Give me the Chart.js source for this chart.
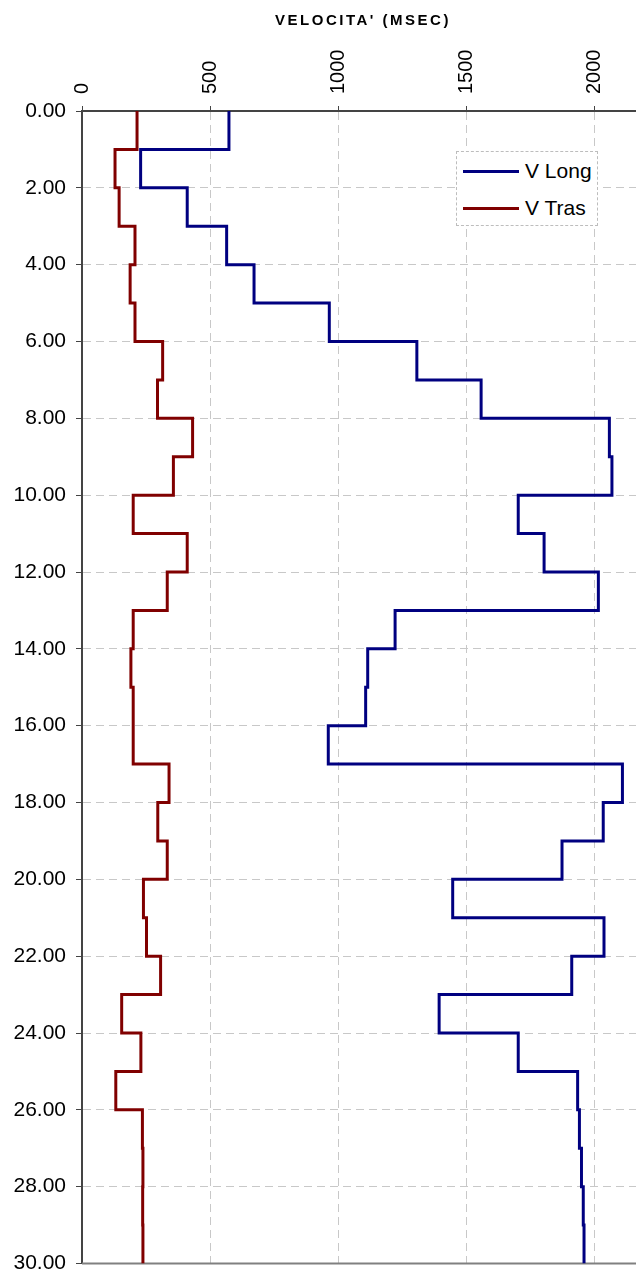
<!DOCTYPE html>
<html>
<head>
<meta charset="utf-8">
<script src="https://cdn.jsdelivr.net/npm/chart.js@4/dist/chart.umd.min.js"></script>
<style>
  body { margin: 0; background: #fff; }
  #wrap { position: relative; width: 636px; height: 1284px; }
  #legend {
    position: absolute; left: 456px; top: 151px; width: 140px; height: 73px;
    border: 1px dashed #bdbdbd; background: #fff;
    font-family: "Liberation Sans", Arial, sans-serif; font-size: 21px; color: #000;
  }
  #legend .row { position: absolute; left: 6px; height: 24px; display: flex; align-items: center; }
  #legend .swatch { width: 56px; height: 3px; margin-right: 6px; }
</style>
</head>
<body>
<div id="wrap">
  <canvas id="chart" width="636" height="1284"></canvas>
  <div id="legend"></div>
</div>
<script>
// depth of the top of each 1 m layer, and the base of the last one
const depthTop = [0, 1, 2, 3, 4, 5, 6, 7, 8, 9, 10, 11, 12, 13, 14,
                  15, 16, 17, 18, 19, 20, 21, 22, 23, 24, 25, 26, 27, 28, 29];
const depthBase = 30;

const vLong = [574, 229, 411, 565, 672, 966, 1308, 1559, 2060, 2070,
               1704, 1805, 2017, 1223, 1116, 1108, 962, 2111, 2036, 1875,
               1448, 2039, 1913, 1395, 1704, 1936, 1943, 1951, 1958, 1961];

const vTras = [215, 129, 145, 207, 188, 207, 315, 295, 432, 357,
               200, 411, 333, 200, 191, 200, 200, 340, 296, 333,
               240, 252, 307, 155, 230, 132, 236, 238, 237, 238];

const xTicks = [0, 500, 1000, 1500, 2000];

function profile(values) {
  const pts = values.map((v, i) => ({ x: v, y: depthTop[i] }));
  pts.push({ x: values[values.length - 1], y: depthBase });
  return pts;
}

const datasets = [
  { label: 'V Long', data: profile(vLong), borderColor: '#000080' },
  { label: 'V Tras', data: profile(vTras), borderColor: '#800000' }
].map(d => Object.assign(d, {
  showLine: true,
  stepped: 'after',
  borderWidth: 3,
  pointRadius: 0,
  borderJoinStyle: 'miter',
  fill: false
}));

const axisTitle = {
  id: 'axisTitle',
  afterDraw(chart) {
    const { ctx, chartArea } = chart;
    ctx.save();
    ctx.font = 'bold 15px "Liberation Sans", Arial, sans-serif';
    ctx.letterSpacing = '2.5px';
    ctx.fillStyle = '#000';
    ctx.textAlign = 'center';
    ctx.textBaseline = 'middle';
    ctx.fillText("VELOCITA' (MSEC)", (chartArea.left + chartArea.right) / 2 + 4, 21);
    ctx.restore();
  }
};

const baseLine = {
  id: 'baseLine',
  beforeDatasetsDraw(chart) {
    const { ctx, chartArea } = chart;
    ctx.save();
    ctx.strokeStyle = '#808080';
    ctx.lineWidth = 2;
    ctx.beginPath();
    ctx.moveTo(chartArea.left, chartArea.bottom);
    ctx.lineTo(chartArea.right, chartArea.bottom);
    ctx.stroke();
    ctx.restore();
  }
};

const chart = new Chart(document.getElementById('chart'), {
  type: 'scatter',
  data: { datasets },
  options: {
    responsive: false,
    animation: false,
    layout: { padding: { top: 0, right: 0, bottom: 11, left: 0 } },
    plugins: { legend: { display: false }, tooltip: { enabled: false } },
    scales: {
      x: {
        type: 'linear',
        position: 'top',
        min: 0,
        max: 2164,
        afterFit: s => { s.height = 111; },
        afterBuildTicks: s => { s.ticks = xTicks.map(v => ({ value: v })); },
        ticks: {
          minRotation: 90, maxRotation: 90, autoSkip: false, padding: 12,
          labelOffset: 24,
          color: '#000',
          callback: v => String(v),
          font: { family: '"Liberation Sans", Arial, sans-serif', size: 20 }
        },
        grid: { color: '#c8c8c8', tickColor: '#444', tickLength: 5 },
        border: { color: '#444', width: 2, dash: [8, 5] }
      },
      y: {
        type: 'linear',
        reverse: true,
        min: 0,
        max: 30,
        afterFit: s => { s.width = 82; },
        ticks: {
          stepSize: 2, padding: 10, color: '#000',
          callback: v => Number(v).toFixed(2),
          font: { family: '"Liberation Sans", Arial, sans-serif', size: 21, lineHeight: 1 }
        },
        grid: { color: '#c8c8c8', tickColor: '#444', tickLength: 6 },
        border: { color: '#444', width: 2, dash: [8, 5] }
      }
    }
  },
  plugins: [axisTitle, baseLine]
});

// legend inside the plot, built from the datasets
const legendEl = document.getElementById('legend');
chart.data.datasets.forEach((d, i) => {
  const row = document.createElement('div');
  row.className = 'row';
  row.style.top = (7 + i * 37) + 'px';
  const sw = document.createElement('span');
  sw.className = 'swatch';
  sw.style.background = d.borderColor;
  const txt = document.createElement('span');
  txt.textContent = d.label;
  row.appendChild(sw);
  row.appendChild(txt);
  legendEl.appendChild(row);
});
</script>
</body>
</html>
